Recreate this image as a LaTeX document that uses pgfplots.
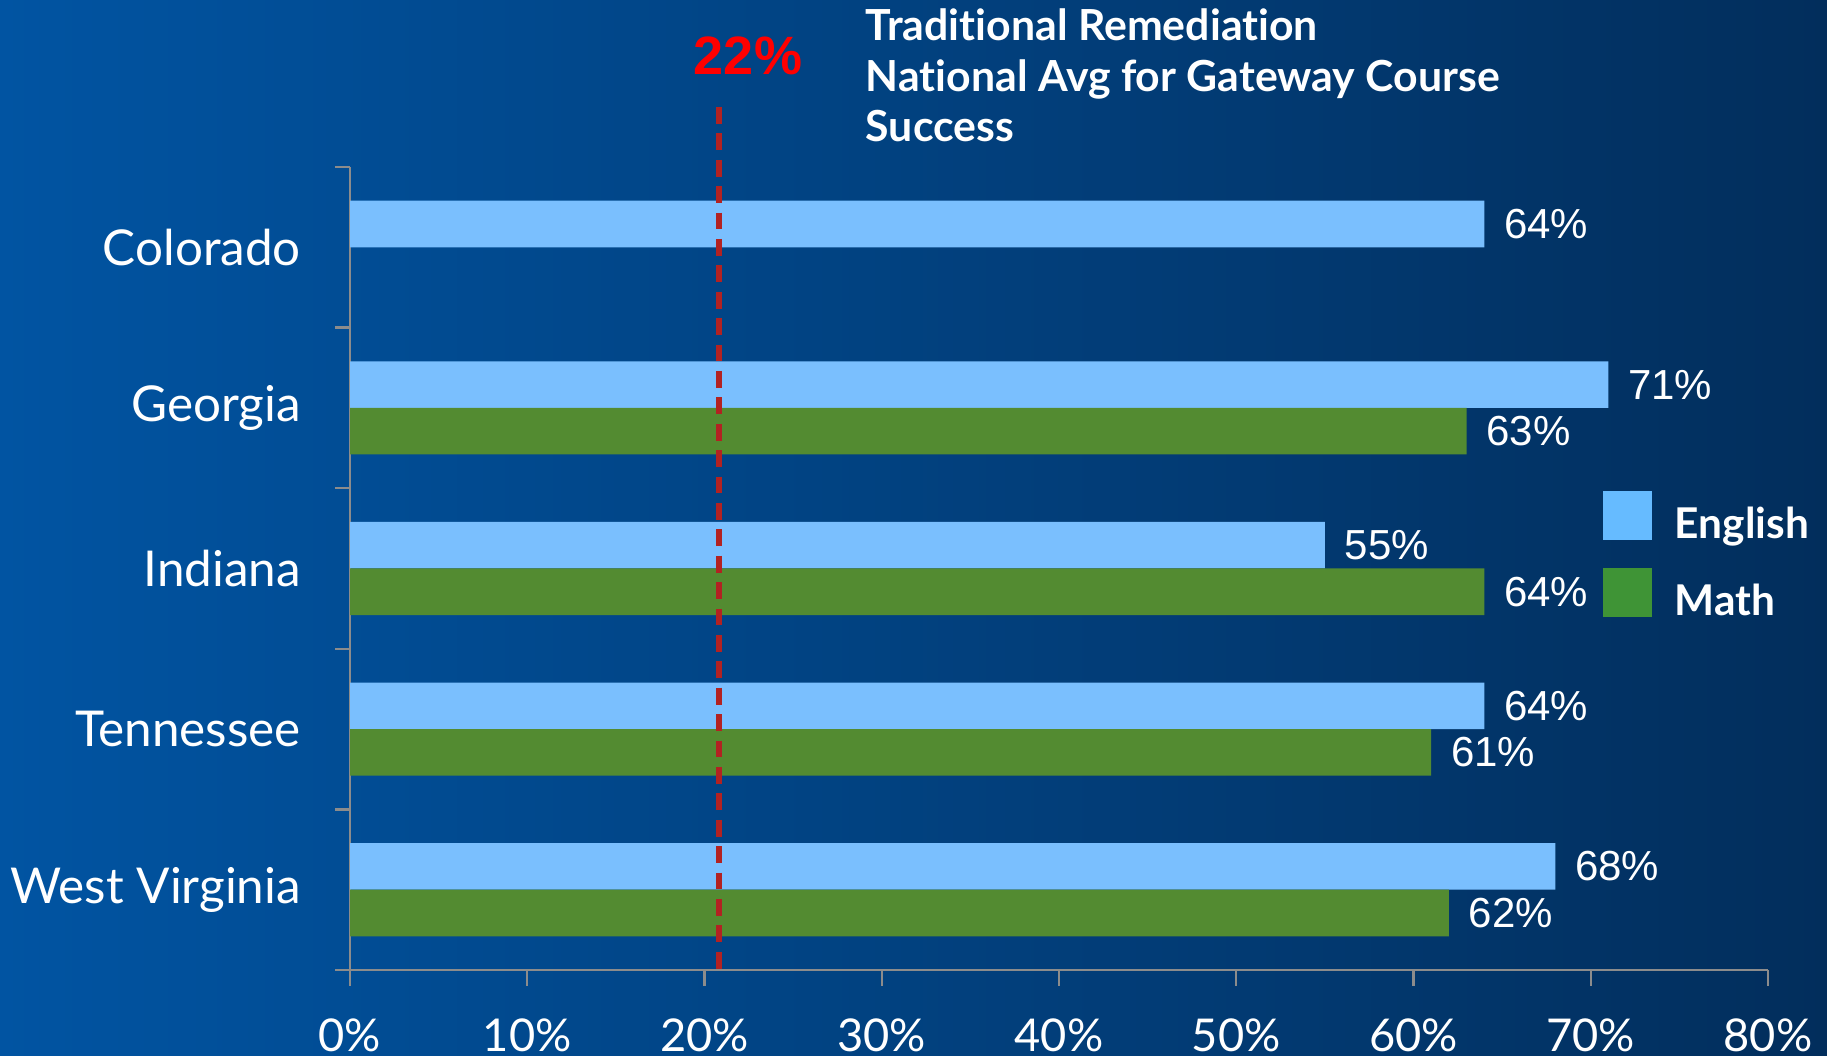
\documentclass[border=0pt]{standalone}
\usepackage{pgfplots}
\pgfplotsset{compat=1.18}
\usepackage{pgfplotstable}
\usepackage{fontspec}
\setmainfont{Lato}[Ligatures=NoCommon]
\newfontfamily\arialfont{Liberation Sans}
\definecolor{bgL}{RGB}{1,84,162}
\definecolor{bgR}{RGB}{2,46,92}
\definecolor{eng}{RGB}{122,191,254}
\definecolor{mat}{RGB}{83,139,49}
\definecolor{engleg}{RGB}{102,187,255}
\definecolor{matleg}{RGB}{63,148,54}
\definecolor{avg}{RGB}{178,34,34}
\definecolor{axgray}{RGB}{140,140,140}
\pgfplotstableread{
y English Math
4 64 nan
3 71 63
2 55 64
1 64 61
0 68 62
}\data
\begin{document}
\begin{tikzpicture}
\fill[left color=bgL,right color=bgR] (0pt,0pt) rectangle (456.75pt,264pt);
\useasboundingbox (0pt,0pt) rectangle (456.75pt,264pt);
\begin{axis}[
  /pgf/number format/assume math mode=true,
  at={(87.5pt,21.5pt)}, anchor=south west,
  width=354.5pt, height=200.75pt, scale only axis,
  xmin=0, xmax=80, ymin=-0.5, ymax=4.5,
  clip=false,
  axis x line*=bottom, axis y line*=left,
  axis line style={axgray, line width=0.6pt, -},
  tick align=outside,
  major tick length=4pt, minor tick length=3.75pt,
  xtick={0,10,...,80},
  xticklabel={\pgfmathprintnumber{\tick}\%},
  xtick style={axgray, line width=0.6pt},
  ytick={0,1,2,3,4},
  yticklabels={West Virginia,Tennessee,Indiana,Georgia,Colorado},
  major y tick style={draw=none},
  minor ytick={-0.5,0.5,...,4.5},
  minor y tick style={draw=axgray, line width=0.6pt},
  xticklabel style={font=\fontsize{11.3}{13}\selectfont, text=white, anchor=north, inner sep=0pt, yshift=-8pt},
  yticklabel style={font=\fontsize{12.35}{14}\selectfont, text=white, anchor=east, inner sep=0pt, xshift=-8.1pt},
  xbar, bar width=0.29,
  nodes near coords={\pgfmathprintnumber{\pgfplotspointmeta}\%},
  nodes near coords style={font=\arialfont\fontsize{10.5}{12}\selectfont, text=white, anchor=west, inner sep=0pt, xshift=4.75pt},
  legend style={at={(0.8836,0.5965)}, anchor=north west, draw=none, fill=none,
    inner sep=0pt, outer sep=0pt,
    font=\bfseries\fontsize{10.6}{12}\selectfont, text=white, row sep=5.8pt,
    /tikz/every odd column/.style={column sep=5.75pt},
    nodes={inner sep=0pt}},
  legend cell align=left,
]
\addplot[fill=eng, draw=none, bar shift=0.145,
  legend image code/.code={\fill[engleg] (0pt,-3.5pt) rectangle (12.25pt,8.75pt);}]
  table[x=English, y=y] {\data};
\addlegendentry{English}
\addplot[fill=mat, draw=none, bar shift=-0.145,
  legend image code/.code={\fill[matleg] (0pt,-3.5pt) rectangle (12.25pt,8.75pt);}]
  table[x=Math, y=y] {\data};
\addlegendentry{Math}
\addplot[avg, line width=1.5pt, dash pattern=on 4.2pt off 2.4pt, forget plot, nodes near coords=, xbar=false, sharp plot]
  coordinates {(20.8,4.874) (20.8,-0.55)};
\end{axis}
\node[anchor=base, text=red, font=\arialfont\bfseries\fontsize{13.5}{15}\selectfont, inner sep=0pt] at (187pt,245.25pt) {22\%};
\node[anchor=base west, text=white, font=\bfseries\fontsize{10.7}{12}\selectfont, inner sep=0pt] at (216.25pt,253.75pt) {Traditional Remediation};
\node[anchor=base west, text=white, font=\bfseries\fontsize{10.7}{12}\selectfont, inner sep=0pt] at (216.25pt,241.1pt) {National Avg for Gateway Course};
\node[anchor=base west, text=white, font=\bfseries\fontsize{10.7}{12}\selectfont, inner sep=0pt] at (216.25pt,228.5pt) {Success};
\end{tikzpicture}
\end{document}
